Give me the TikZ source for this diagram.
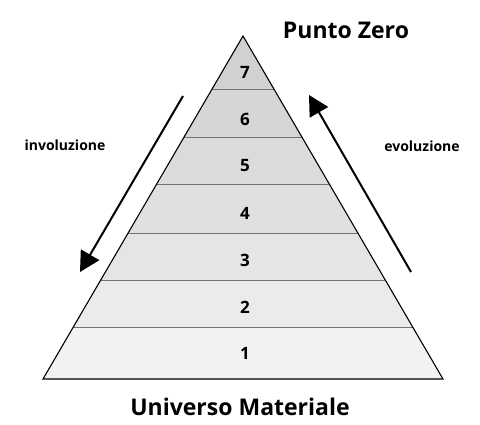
\documentclass[tikz,border=0pt]{standalone}
\usepackage{fontspec}
\setmainfont{Open Sans}
\usetikzlibrary{arrows.meta,calc}
\tikzset{
  title_T/.style = {font=\bfseries\fontsize{23}{26}\selectfont, inner sep=0pt},
  side_T/.style = {font=\bfseries\fontsize{14}{16}\selectfont, inner sep=0pt},
  num_N/.style = {font=\bfseries\fontsize{17}{19}\selectfont, inner sep=0pt},
  band_L/.style = {draw=black!55, line width=0.6pt},
  flow_A/.style = {line width=2pt, -{Triangle[length=20pt,width=21pt]}}
}
\begin{document}
\begin{tikzpicture}[x=1pt,y=-1pt]
  \useasboundingbox (0,0) rectangle (480,424);
  % corners of the pyramid
  \coordinate (apex) at (243,36);
  \coordinate (bl) at (43,379);
  \coordinate (br) at (443,379);
  % bands, from the top (7) to the base (1)
  \foreach \ta/\tb/\shade in {0/0.1545/18, 0.1545/0.2945/16, 0.2945/0.4315/14,
      0.4315/0.5743/12, 0.5743/0.7114/10, 0.7114/0.8484/8, 0.8484/1/5}{
    \fill[black!\shade] ($(apex)!\ta!(bl)$) -- ($(apex)!\ta!(br)$)
      -- ($(apex)!\tb!(br)$) -- ($(apex)!\tb!(bl)$) -- cycle;
  }
  \foreach \tb in {0.1545,0.2945,0.4315,0.5743,0.7114,0.8484}{
    \draw[band_L] ($(apex)!\tb!(bl)$) -- ($(apex)!\tb!(br)$);
  }
  \draw[line width=1.1pt, line join=miter] (apex) -- (br) -- (bl) -- cycle;
  % numbers
  \node[num_N] (n7) at (245,72) {7};
  \node[num_N] (n6) at (245,119) {6};
  \node[num_N] (n5) at (245,166) {5};
  \node[num_N] (n4) at (245,213) {4};
  \node[num_N] (n3) at (245,260) {3};
  \node[num_N] (n2) at (245,307) {2};
  \node[num_N] (n1) at (245,353) {1};
  % titles
  \node[title_T] (top) at (346,30) {Punto Zero};
  \node[title_T] (bottom) at (240,407) {Universo Materiale};
  % arrows
  \coordinate (invA) at (183,96);
  \coordinate (invB) at (80,272);
  \coordinate (evoA) at (411,272);
  \coordinate (evoB) at (309,95);
  \draw[flow_A] (invA) -- (invB);
  \draw[flow_A] (evoA) -- (evoB);
  \node[side_T] (inv) at (65,145) {involuzione};
  \node[side_T] (evo) at (422,146) {evoluzione};
\end{tikzpicture}
\end{document}
